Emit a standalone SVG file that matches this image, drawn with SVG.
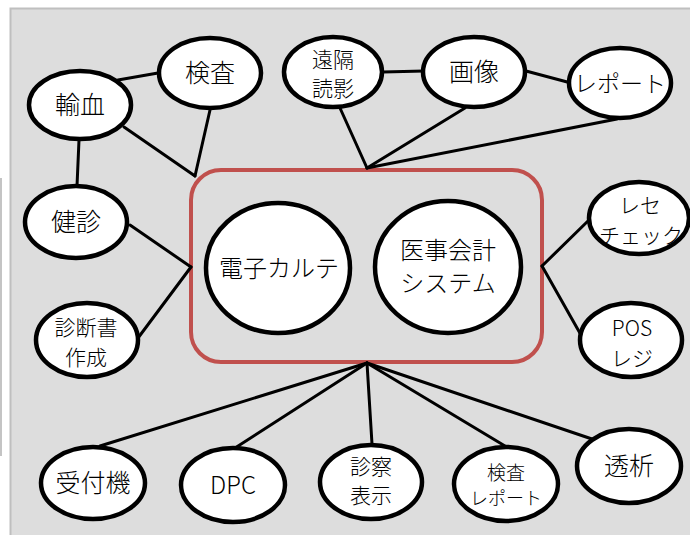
<svg xmlns="http://www.w3.org/2000/svg" width="690" height="535" viewBox="0 0 690 535">
<style>
.n ellipse{fill:#fff;stroke:#000;stroke-width:4.5}
.c line{stroke:#000;stroke-width:3;stroke-linecap:round}
text{font-family:"Noto Sans CJK JP","Noto Sans",sans-serif;font-weight:300;fill:#000;text-anchor:middle}
.s{font-size:25px}
.t{font-size:21px}
</style>
<rect x="0" y="0" width="690" height="535" fill="#fff"/>
<rect x="10.5" y="8.5" width="690" height="540" fill="#dddddd" stroke="#bfbfbf" stroke-width="2"/>
<line x1="1" y1="178" x2="1" y2="456" stroke="#c4c4c4" stroke-width="2"/>
<g id="group-box"><rect x="191" y="170" width="351" height="192" rx="30" fill="none" stroke="#c0504d" stroke-width="4"/></g>
<g class="c" id="connectors">
<line x1="118" y1="80" x2="158" y2="73"/>
<line x1="124" y1="127" x2="195" y2="176"/>
<line x1="210" y1="110" x2="195" y2="176"/>
<line x1="79" y1="140" x2="77" y2="186"/>
<line x1="383" y1="72" x2="424" y2="71"/>
<line x1="526" y1="71" x2="571" y2="83"/>
<line x1="340" y1="108" x2="367" y2="168"/>
<line x1="465" y1="108" x2="367" y2="168"/>
<line x1="617" y1="119" x2="367" y2="168"/>
<line x1="130" y1="225" x2="191" y2="267"/>
<line x1="138" y1="338" x2="191" y2="267"/>
<line x1="542" y1="266" x2="589" y2="220"/>
<line x1="542" y1="266" x2="581" y2="335"/>
<line x1="367" y1="363" x2="100" y2="446"/>
<line x1="367" y1="363" x2="235" y2="448"/>
<line x1="367" y1="363" x2="372" y2="444"/>
<line x1="367" y1="363" x2="505" y2="446"/>
<line x1="367" y1="363" x2="592" y2="439"/>
</g>
<g class="n" id="n-yuketsu"><ellipse cx="80" cy="105" rx="51" ry="34"/><text class="s" x="80" y="114">輸血</text></g>
<g class="n" id="n-kensa"><ellipse cx="210" cy="73" rx="51" ry="35"/><text class="s" x="210" y="82">検査</text></g>
<g class="n" id="n-enkaku"><ellipse cx="333" cy="72" rx="49" ry="35"/><text class="t" x="333" y="67">遠隔</text><text class="t" x="333" y="96">読影</text></g>
<g class="n" id="n-gazou"><ellipse cx="474" cy="72" rx="51" ry="35"/><text class="s" x="474" y="81">画像</text></g>
<g class="n" id="n-report"><ellipse cx="620" cy="83" rx="51" ry="35"/><text x="620" y="92" style="font-size:23px">レポート</text></g>
<g class="n" id="n-kenshin"><ellipse cx="76" cy="222" rx="51" ry="36"/><text class="s" x="76" y="231">健診</text></g>
<g class="n" id="n-shindansho"><ellipse cx="87" cy="340" rx="51" ry="37"/><text class="t" x="86" y="335">診断書</text><text class="t" x="86" y="365">作成</text></g>
<g class="n" id="n-karte"><ellipse cx="278" cy="268" rx="72" ry="65"/><text x="279" y="277" style="font-size:24px">電子カルテ</text></g>
<g class="n" id="n-iji"><ellipse cx="448" cy="267" rx="73" ry="66"/><text x="448" y="259" style="font-size:24px">医事会計</text><text x="448" y="292" style="font-size:24px">システム</text></g>
<g class="n" id="n-rese"><ellipse cx="639" cy="218" rx="50" ry="36"/><text class="t" x="640" y="213">レセ</text><text class="t" x="641" y="243">チェック</text></g>
<g class="n" id="n-pos"><ellipse cx="631" cy="340" rx="51" ry="37"/><text class="t" x="632" y="336">POS</text><text class="t" x="632" y="366">レジ</text></g>
<g class="n" id="n-uketsuke"><ellipse cx="93" cy="483" rx="52" ry="36"/><text class="s" x="93" y="492">受付機</text></g>
<g class="n" id="n-dpc"><ellipse cx="233" cy="485" rx="52" ry="37"/><text x="233" y="494" style="font-size:24px">DPC</text></g>
<g class="n" id="n-shinsatsu"><ellipse cx="371" cy="482" rx="51" ry="37"/><text class="t" x="371" y="474">診察</text><text class="t" x="371" y="503">表示</text></g>
<g class="n" id="n-kensareport"><ellipse cx="506" cy="484" rx="52" ry="37"/><text x="506" y="480" style="font-size:19px">検査</text><text x="506" y="505" style="font-size:18px">レポート</text></g>
<g class="n" id="n-touseki"><ellipse cx="629" cy="466" rx="52" ry="37"/><text class="s" x="629" y="475">透析</text></g>
</svg>
